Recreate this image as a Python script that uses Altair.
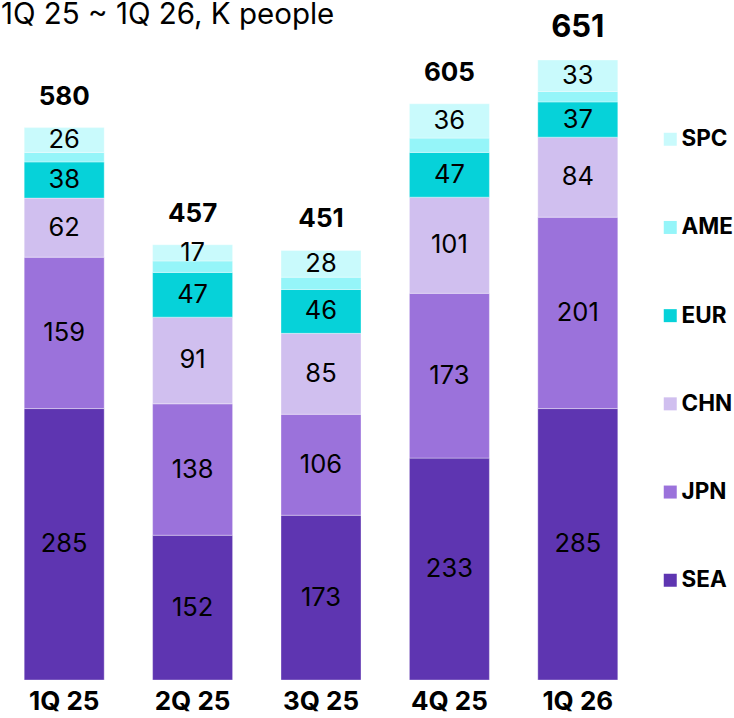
import altair as alt
import pandas as pd

title_text = "1Q 25 ~ 1Q 26, K people"
quarters = ["1Q 25", "2Q 25", "3Q 25", "4Q 25", "1Q 26"]
regions = ["SEA", "JPN", "CHN", "EUR", "AME", "SPC"]  # bottom to top
sea = [285, 152, 173, 233, 285]
jpn = [159, 138, 106, 173, 201]
chn = [62, 91, 85, 101, 84]
eur = [38, 47, 46, 47, 37]
ame = [10, 12, 13, 15, 11]
spc = [26, 17, 28, 36, 33]
totals = [580, 457, 451, 605, 651]
total_sizes = [26, 26, 26, 26, 31]
region_colors = ["#5E35B1", "#9B72DB", "#D0BFEF", "#06D2D9", "#95F5F9", "#C9FAFC"]

series = {"SEA": sea, "JPN": jpn, "CHN": chn, "EUR": eur, "AME": ame, "SPC": spc}
rows = []
for i, r in enumerate(regions):
    for q, v in zip(quarters, series[r]):
        rows.append({"quarter": q, "region": r, "value": v, "idx": i})
df = pd.DataFrame(rows)
tot_df = pd.DataFrame({"quarter": quarters, "total": totals, "fs": total_sizes})

legend_order = regions[::-1]
legend_colors = region_colors[::-1]

FONT = "Inter"

xenc = alt.X(
    "quarter:N",
    sort=quarters,
    scale=alt.Scale(paddingInner=0.377, paddingOuter=0.1885),
    axis=alt.Axis(
        title=None, labelAngle=0, labelFont=FONT, labelFontSize=26,
        labelFontWeight="bold", labelColor="black", ticks=False,
        domain=False, labelPadding=8,
    ),
)
yscale = alt.Scale(domain=[0, 672], nice=False, zero=True)

base = alt.Chart(df).transform_stack(
    stack="value", groupby=["quarter"],
    sort=[alt.SortField("idx", order="ascending")], as_=["y0", "y1"],
).transform_calculate(mid="(datum.y0 + datum.y1) / 2")

bars = base.mark_bar(stroke="white", strokeWidth=1, strokeOpacity=0.35).encode(
    x=xenc,
    y=alt.Y("y0:Q", scale=yscale, axis=None),
    y2="y1:Q",
    color=alt.Color(
        "region:N",
        scale=alt.Scale(domain=legend_order, range=legend_colors),
        legend=alt.Legend(
            title=None, orient="none", legendX=659, legendY=88,
            symbolType="square", symbolSize=169, symbolStrokeWidth=0,
            labelFont=FONT, labelFontSize=22.5, labelFontWeight="bold",
            labelColor="black", labelOffset=0, rowPadding=65.2, padding=0,
        ),
    ),
)

labels = base.transform_filter("datum.region != 'AME'").mark_text(
    font=FONT, fontSize=25.5, color="black", baseline="middle"
).encode(x=xenc, y=alt.Y("mid:Q", scale=yscale), text="value:Q")

tot = alt.Chart(tot_df).mark_text(
    font=FONT, fontWeight="bold", color="black", baseline="alphabetic", dy=-23
).encode(
    x=xenc,
    y=alt.Y("total:Q", scale=yscale),
    text="total:Q",
    size=alt.Size("fs:Q", scale=None, legend=None),
)

ttl = alt.Chart(pd.DataFrame({"t": [title_text]})).mark_text(
    font=FONT, fontSize=29.5, align="left", baseline="alphabetic", color="black"
).encode(x=alt.value(1), y=alt.value(-16), text="t:N")

chart = alt.layer(bars, labels, tot, ttl).properties(
    width=642, height=640,
    autosize=alt.AutoSizeParams(type="none"),
    padding={"left": 0, "top": 40, "right": 92, "bottom": 38},
    background="white",
).configure_view(stroke=None)

chart.save("out.html", embed_options={"renderer": "svg", "actions": False})
